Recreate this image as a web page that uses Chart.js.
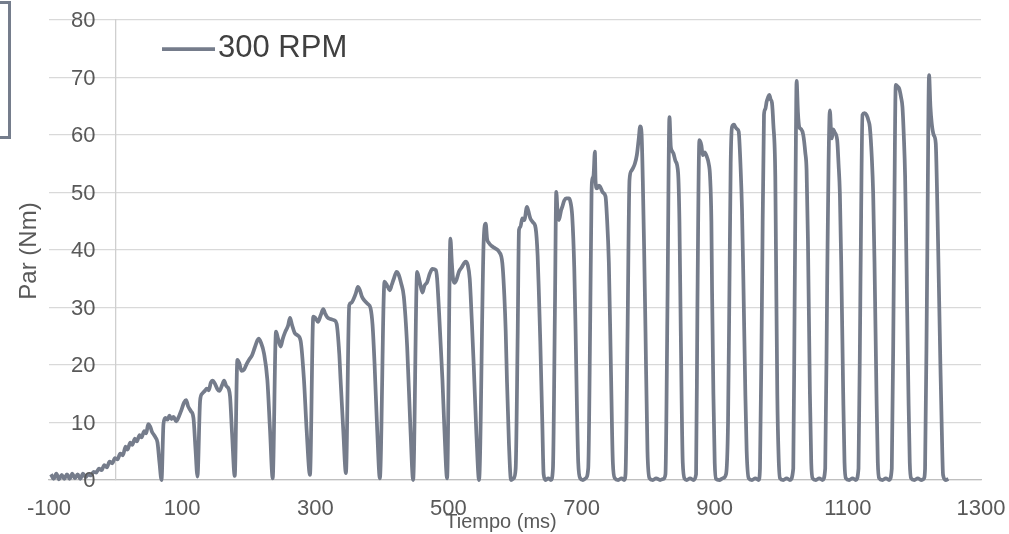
<!DOCTYPE html>
<html>
<head>
<meta charset="utf-8">
<title>Par vs Tiempo</title>
<script src="https://cdn.jsdelivr.net/npm/chart.js@4.4.1/dist/chart.umd.min.js"></script>
<style>
  html, body { margin: 0; padding: 0; background: #ffffff; }
  #wrap { position: relative; width: 1009px; height: 534px; overflow: hidden; }
  /* cropped frame on the left edge of the original picture */
  #edgeBox { position: absolute; left: -20px; top: 1px; width: 25px; height: 132px; border: 3px solid #757d8c; }
</style>
</head>
<body>
<div id="wrap">
  <canvas id="chart"></canvas>
  <div id="edgeBox"></div>
</div>
<script>
const seriesLabel = '300 RPM';
const xTitle = 'Tiempo (ms)';
const yTitle = 'Par (Nm)';
const xTickValues = [-100, 100, 300, 500, 700, 900, 1100, 1300];
const yTickValues = [0, 10, 20, 30, 40, 50, 60, 70, 80];

// time (ms), one line per cycle
const timeMs = [
  -97, -93, -89, -85, -81, -77, -73, -69, -65, -61, -57, -53, -49, -45, -41, -37, -33, -29, -25, -21, -17, -13, -9, -5, -1,
  3, 7, 11, 15, 18, 22, 25, 29, 32, 36, 39, 43, 46, 49, 52, 55, 58, 60, 63, 66, 69,
  72, 75, 78, 81, 84, 87, 91, 95, 99, 103, 106, 109, 113, 117, 120, 123,
  127, 130, 134, 137, 140, 143, 146, 149, 153, 156, 160, 163, 166, 170, 172, 175, 179,
  183, 186, 189, 193, 197, 201, 205, 209, 213, 215, 218, 223, 228, 232, 236,
  241, 244, 248, 251, 255, 259, 262, 265, 269, 273, 278, 283, 287, 292,
  297, 300, 304, 308, 312, 315, 318, 323, 328, 332, 336, 338, 342, 346,
  351, 354, 358, 361, 364, 367, 370, 374, 379, 383, 386, 389, 393, 397,
  404, 408, 412, 415, 418, 422, 425, 429, 433, 438, 443, 447,
  453, 457, 461, 464, 468, 472, 476, 481, 483, 486, 491, 494, 498,
  503, 505, 507, 509, 512, 516, 520, 523, 526, 529, 532, 535, 538, 542, 546,
  553, 556, 558, 561, 565, 570, 576, 581, 584, 586, 588, 591, 594, 598,
  601, 604, 606, 608, 611, 614, 618, 620, 623, 627, 631, 634, 636, 638, 641, 643, 646, 650, 654,
  657, 660, 662, 664, 666, 669, 671, 674, 677, 681, 683, 686, 689, 691, 693, 695, 698, 702, 706,
  710, 713, 715, 716, 718, 720, 721, 723, 726, 728, 732, 736, 738, 741, 744, 747, 750, 755, 760, 764,
  766, 769, 772, 775, 777, 780, 783, 786, 788, 790, 792, 794, 796, 799, 802, 807, 812, 818, 823,
  826, 829, 832, 834, 836, 838, 841, 845, 847, 849, 852, 855, 858, 863, 868,
  872, 874, 877, 880, 882, 885, 888, 891, 893, 895, 896, 898, 900, 902, 907, 912,
  917, 920, 922, 924, 926, 929, 931, 934, 936, 939, 941, 943, 946, 948, 951, 956, 961, 966,
  968, 971, 974, 976, 978, 980, 982, 984, 986, 988, 991, 992, 994, 996, 998, 1003, 1008, 1013,
  1018, 1020, 1022, 1023, 1025, 1027, 1030, 1033, 1036, 1038, 1040, 1043, 1045, 1047, 1052, 1057, 1062,
  1066, 1069, 1071, 1073, 1075, 1076, 1078, 1080, 1084, 1086, 1088, 1090, 1093, 1095, 1097, 1102, 1107, 1112,
  1116, 1119, 1122, 1125, 1128, 1131, 1133, 1136, 1138, 1140, 1143, 1145, 1147, 1152, 1157, 1162,
  1166, 1169, 1172, 1175, 1177, 1180, 1182, 1184, 1186, 1188, 1191, 1193, 1195, 1200, 1205, 1210, 1214,
  1216, 1219, 1222, 1224, 1226, 1229, 1232, 1234, 1236, 1239, 1241, 1243, 1247, 1251
];

// torque (Nm), same layout as timeMs
const torqueNm = [
  1.0, 0.2, 1.1, 0.1, 0.9, 0.2, 1.0, 0.2, 1.1, 0.3, 1.0, 0.2, 1.1, 0.5, 1.0, 0.8, 1.4, 1.3, 2.0, 1.7, 2.6, 2.2, 3.2, 2.9, 3.8,
  3.6, 4.6, 4.3, 5.8, 5.3, 6.5, 6.1, 7.2, 6.7, 7.8, 7.4, 8.5, 8.1, 9.7, 9.3, 8.3, 7.8, 7.4, 6.5, 3.0, 0.0,
  9.8, 10.8, 10.5, 11.2, 10.6, 11.0, 10.2, 11.0, 12.2, 13.5, 13.9, 12.8, 12.0, 10.8, 5.5, 0.6,
  13.8, 15.0, 15.5, 15.9, 15.6, 16.9, 17.3, 16.8, 15.8, 15.5, 16.5, 17.3, 16.4, 15.8, 14.5, 8.0, 0.7,
  20.9, 20.3, 19.0, 19.2, 20.2, 21.0, 21.7, 23.0, 24.3, 24.6, 24.0, 22.0, 17.4, 8.7, 0.3,
  25.8, 24.6, 23.2, 24.5, 25.8, 26.8, 28.2, 27.0, 25.6, 25.2, 24.2, 17.4, 8.7, 0.9,
  28.4, 28.2, 27.5, 28.6, 29.7, 28.9, 28.3, 28.0, 27.8, 27.2, 22.0, 17.4, 8.7, 1.2,
  30.4, 30.8, 31.6, 32.5, 33.6, 33.0, 31.9, 31.2, 30.6, 29.9, 27.0, 20.3, 8.7, 0.3,
  34.5, 33.8, 33.0, 34.0, 35.0, 36.2, 35.8, 34.2, 31.9, 23.2, 8.7, 0.0,
  36.2, 34.4, 32.6, 33.8, 34.4, 35.9, 36.7, 36.5, 35.0, 29.0, 17.4, 8.7, 0.3,
  42.0, 38.0, 35.0, 34.3, 34.8, 36.3, 37.0, 37.6, 38.0, 37.4, 35.0, 28.0, 20.0, 8.0, 0.0,
  41.7, 44.6, 42.0, 41.2, 40.7, 40.3, 39.7, 37.7, 32.0, 26.0, 17.0, 6.0, 0.0, 0.3,
  2.0, 25.0, 43.5, 44.0, 45.5, 45.2, 47.5, 46.8, 45.5, 44.8, 43.8, 39.0, 32.0, 24.0, 10.0, 1.0, 0.0, 0.3, 0.0,
  2.0, 30.0, 50.1, 46.5, 45.2, 46.8, 47.5, 48.6, 49.0, 49.0, 48.5, 45.8, 37.0, 26.0, 13.0, 3.0, 0.3, 0.0, 0.3,
  2.0, 28.0, 50.0, 52.2, 53.0, 57.1, 52.0, 50.7, 51.2, 51.0, 50.0, 49.3, 46.0, 37.7, 20.0, 3.0, 0.3, 0.0, 0.3, 0.0,
  1.0, 25.0, 52.2, 53.8, 54.2, 55.0, 56.5, 59.5, 61.5, 60.5, 52.0, 40.0, 26.0, 5.0, 0.3, 0.0, 0.3, 0.0, 0.2,
  1.0, 30.0, 63.1, 58.0, 57.2, 56.8, 55.5, 53.4, 45.0, 26.0, 3.0, 0.2, 0.0, 0.3, 0.0,
  1.0, 30.0, 59.1, 58.2, 56.5, 57.0, 56.3, 55.0, 52.8, 45.0, 33.0, 15.0, 3.0, 0.2, 0.0, 0.3,
  1.0, 10.0, 32.0, 55.0, 61.4, 61.8, 61.4, 61.0, 60.6, 54.0, 47.0, 35.0, 15.0, 5.0, 0.3, 0.0, 0.3, 0.0,
  2.0, 32.0, 63.5, 64.5, 65.8, 66.5, 67.0, 66.2, 65.6, 62.0, 52.8, 40.0, 15.0, 4.0, 0.3, 0.0, 0.3, 0.0,
  2.0, 30.0, 60.0, 69.4, 64.0, 61.4, 61.0, 60.0, 57.0, 53.9, 42.0, 15.0, 3.0, 0.3, 0.0, 0.3, 0.0,
  2.0, 35.0, 55.0, 64.3, 60.0, 59.4, 61.0, 60.5, 59.1, 55.0, 49.9, 38.0, 15.0, 3.0, 0.3, 0.0, 0.3, 0.0,
  2.0, 35.0, 63.5, 63.8, 63.5, 62.5, 61.4, 56.0, 49.9, 38.0, 15.0, 3.0, 0.3, 0.0, 0.3, 0.0,
  2.0, 35.0, 68.7, 68.4, 68.1, 66.5, 64.9, 60.0, 52.8, 38.0, 15.0, 3.0, 0.3, 0.0, 0.3, 0.0, 0.2,
  2.0, 35.0, 70.4, 65.0, 62.0, 60.0, 58.6, 50.0, 38.3, 20.0, 9.3, 0.9, 0.0, 0.2
];

if (timeMs.length !== torqueNm.length) {
  console.error('length mismatch', timeMs.length, torqueNm.length);
}

const lineColor = '#757c8b';
const textColor = '#595959';
const fontFamily = '"Liberation Sans", Arial, sans-serif';

// y tick labels sit left of the x=0 axis, titles and legend drawn in the plot like the original
const overlayText = {
  id: 'overlayText',
  afterDraw(chart) {
    const { ctx, chartArea, scales } = chart;
    const xs = scales.x;
    const ys = scales.y;
    const axisX = xs.getPixelForValue(0);

    ctx.save();
    ctx.fillStyle = textColor;
    ctx.font = '22px ' + fontFamily;
    ctx.textAlign = 'right';
    ctx.textBaseline = 'middle';
    ys.ticks.forEach(t => {
      ctx.fillText(String(t.value), axisX - 20, ys.getPixelForValue(t.value) + 1);
    });

    ctx.textAlign = 'center';
    ctx.font = '20px ' + fontFamily;
    ctx.fillText(xTitle, (chartArea.left + chartArea.right) / 2 - 14, 522);

    ctx.save();
    ctx.translate(29, (chartArea.top + chartArea.bottom) / 2 + 1);
    ctx.rotate(-Math.PI / 2);
    ctx.font = '24px ' + fontFamily;
    ctx.fillText(yTitle, 0, 0);
    ctx.restore();

    // legend
    ctx.strokeStyle = lineColor;
    ctx.lineWidth = 3.75;
    ctx.beginPath();
    ctx.moveTo(162, 49);
    ctx.lineTo(215, 49);
    ctx.stroke();
    ctx.fillStyle = '#404040';
    ctx.font = '31px ' + fontFamily;
    ctx.textAlign = 'left';
    ctx.fillText(chart.data.datasets[0].label, 218, 48.5);
    ctx.restore();
  }
};

const ctx = document.getElementById('chart');
new Chart(ctx, {
  type: 'line',
  data: {
    datasets: [{
      label: seriesLabel,
      data: timeMs.map((t, i) => ({ x: t, y: torqueNm[i] })),
      borderColor: lineColor,
      borderWidth: 3.75,
      pointRadius: 0,
      cubicInterpolationMode: 'monotone',
      fill: false,
      clip: 6
    }]
  },
  options: {
    responsive: true,
    maintainAspectRatio: false,
    animation: false,
    events: [],
    layout: { padding: { left: 49, right: 28, top: 20, bottom: 0 } },
    plugins: {
      legend: { display: false },
      tooltip: { enabled: false }
    },
    scales: {
      x: {
        type: 'linear',
        position: 'bottom',
        min: -100,
        max: 1300,
        afterBuildTicks: scale => { scale.ticks = xTickValues.map(v => ({ value: v })); },
        afterFit: scale => {
          scale.height = 54;
          scale.paddingLeft = 0;
          scale.paddingRight = 0;
        },
        grid: { display: false, drawTicks: false },
        border: { display: true, color: '#bfbfbf', width: 1.3 },
        ticks: {
          padding: 16,
          maxRotation: 0,
          autoSkip: false,
          color: textColor,
          font: { family: fontFamily, size: 22 },
          callback: v => String(v)
        }
      },
      y: {
        type: 'linear',
        position: { x: 0 },
        min: 0,
        max: 80,
        afterBuildTicks: scale => { scale.ticks = yTickValues.map(v => ({ value: v })); },
        grid: { color: '#d9d9d9', lineWidth: 1.2, drawTicks: false },
        border: { display: true, color: '#cfcfcf', width: 1.3 },
        ticks: { display: false }
      }
    }
  },
  plugins: [overlayText]
});
</script>
</body>
</html>
